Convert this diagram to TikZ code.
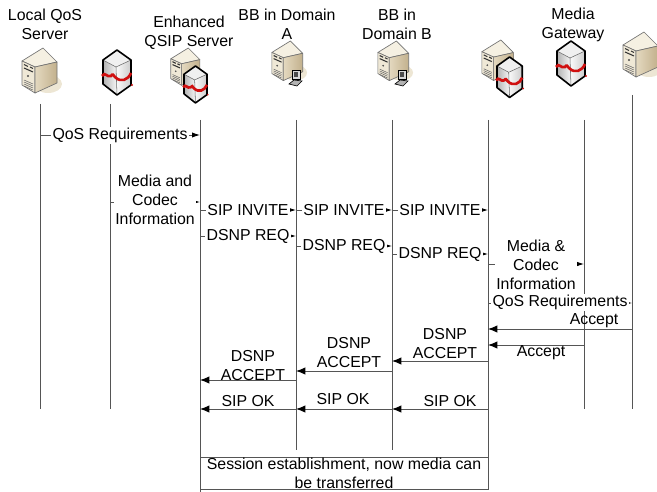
\documentclass[tikz,border=0pt]{standalone}
\usepackage{fontspec}
\setmainfont{Liberation Sans}
\usetikzlibrary{arrows.meta,calc}
\definecolor{lifegray}{HTML}{555555}
\definecolor{beigeA}{HTML}{F5F0E2}
\definecolor{beigeB}{HTML}{EFE8D6}
\definecolor{beigeC}{HTML}{C2B08C}
\definecolor{beigeD}{HTML}{E4D9C0}
\definecolor{shadowc}{HTML}{EDE6D4}
\definecolor{bandred}{HTML}{D01010}
\tikzset{
  x=0.75pt,y=-0.75pt,
  lifeline/.style={draw=lifegray,line width=0.7pt},
  msg/.style={draw=lifegray,line width=0.7pt,-{Latex[black,length=7pt,width=5.5pt]}},
  msgr/.style={draw=lifegray,line width=0.7pt,-{Latex[black,length=6pt,width=4pt]}},
  lbl/.style={font=\fontsize{11.9pt}{14.25pt}\selectfont,align=center,inner sep=1pt,fill=white},
  txt/.style={font=\fontsize{11.9pt}{14.25pt}\selectfont,align=center,inner sep=0pt},
  server/.pic={
    \fill[shadowc] (27,36) ellipse (14 and 9);
    \fill[beigeA,draw=black!55,line width=0.5pt,line join=round] (22,0)--(1,13)--(14,19)--(36,14)--cycle;
    \fill[beigeB,draw=black!55,line width=0.5pt,line join=round] (1,13)--(14,19)--(14,45)--(1,37)--cycle;
    \path[left color=beigeD,right color=beigeC,draw=black!55,line width=0.5pt,line join=round] (14,19)--(36,14)--(36,35)--(14,45)--cycle;
    \draw[black!80,line width=0.8pt] (3,16.5)--(7,18.5) (9,19)--(12,20.5) (3,20)--(12,24);
    \fill[black!70] (7,28) circle (1.1);
    \foreach \k in {33,35,37,39}{\draw[black!60,line width=0.4pt] (3,\k-1)--(12,\k+3);}
  },
  fwall/.pic={
    \path[left color=white!70!black,right color=white!97!black] (0,10)--(13,17)--(14,45)--(0,34)--cycle;
    \path[left color=white!98!black,right color=white!80!black] (13,17)--(28,10)--(28,35)--(14,45)--cycle;
    \fill[white!94!black] (14,0)--(0,10)--(13,17)--(28,10)--cycle;
    \draw[black!60,line width=0.4pt] (0,10)--(13,17)--(28,10) (13,17)--(14,45);
    \draw[black,line width=1.2pt,line join=round] (14,0)--(0,10)--(0,34)--(14,45)--(28,35)--(28,10)--cycle;
    \draw[bandred,line width=2pt] (-1,26) .. controls (2,21) and (4,28) .. (8,26) .. controls (10,23) and (10,25) .. (12,27) .. controls (18,33) and (25,30) .. (28,23);
    \fill[bandred] (29,35) circle (1.1);
  },
  pcicon/.pic={
    \fill[white!85!black,draw=black,line width=0.5pt] (3,0)--(11,0)--(11,9)--(3,9)--cycle;
    \fill[black!70] (5,2)--(9,2)--(9,7)--(5,7)--cycle;
    \fill[white!70!black,draw=black,line width=0.5pt] (0,14)--(5,10)--(13,11)--(8,16)--cycle;
  }
}
\begin{document}
\begin{tikzpicture}
\useasboundingbox (0,0) rectangle (657,492);
% lifeline end points
\foreach \n/\x/\t/\b in {a/40/104/409,b/110/104/409,c/200/120/492,d/296/120/450,e/392/120/450,f/488/120/490,g/584/120/409,h/632/95/409}{
  \coordinate (\n t) at (\x,\t);
  \coordinate (\n b) at (\x,\b);
  \draw[lifeline] (\n t) -- (\n b);
}
% icons
\pic at (21,48) {server};
\pic at (103,50) {fwall};
\pic[scale=0.83] at (170,48) {server};
\pic[scale=0.82] at (184,66) {fwall};
\pic[scale=0.88] at (271,41) {server};
\pic at (289,70) {pcicon};
\pic[scale=0.88] at (377,41) {server};
\pic at (395,70) {pcicon};
\pic[scale=0.9] at (481,40) {server};
\pic[scale=0.9] at (497,57) {fwall};
\pic at (557,41) {fwall};
\pic at (622,32) {server};
% titles
\node[txt] (t1) at (45,24.5) {Local QoS\\Server};
\node[txt] (t2) at (189,33) {Enhanced\\QSIP Server};
\node[txt] (t3) at (287,24.5) {BB in Domain\\A};
\node[txt] (t4) at (397,24.5) {BB in\\Domain B};
\node[txt] (t5) at (573,24.5) {Media\\Gateway};
% messages
\newcommand{\msgline}[8]{%
  \coordinate (#1s) at (#2,#4);\coordinate (#1e) at (#3,#4);
  \draw[#5] (#1s) -- node[lbl,pos=#6,yshift=#7] {#8} (#1e);}
\msgline{m1}{40}{200}{135}{msgr}{0.5}{-0.5pt}{QoS Requirements}
\msgline{m2}{110}{200}{202}{msgr}{0.5}{1.8pt}{Media and\\Codec\\Information}
\msgline{m3}{200}{296}{210}{msgr}{0.5}{0pt}{SIP INVITE}
\msgline{m4}{296}{392}{210}{msgr}{0.5}{0pt}{SIP INVITE}
\msgline{m5}{392}{488}{210}{msgr}{0.5}{0pt}{SIP INVITE}
\msgline{m6}{200}{296}{236}{msgr}{0.5}{-0.5pt}{DSNP REQ}
\msgline{m7}{296}{392}{246}{msgr}{0.5}{-0.5pt}{DSNP REQ}
\msgline{m8}{392}{488}{254}{msgr}{0.5}{-0.5pt}{DSNP REQ}
\msgline{m9}{488}{584}{264}{msgr}{0.5}{-0.7pt}{Media \&\\Codec\\Information}
\msgline{m10}{488}{632}{303}{msgr}{0.5}{0.3pt}{QoS Requirements}
% return messages
\newcommand{\retline}[6]{%
  \coordinate (#1s) at (#2,#4);\coordinate (#1e) at (#3,#4);
  \draw[msg] (#1s) -- (#1e);
  \node[txt] (#1l) at #5 {#6};}
\retline{r1}{632}{488}{329}{(594,321)}{Accept}
\retline{r2}{584}{488}{345}{(541,353)}{Accept}
\retline{r3}{488}{392}{361}{(445,344)}{DSNP\\ACCEPT}
\retline{r4}{392}{296}{371}{(349,353)}{DSNP\\ACCEPT}
\retline{r5}{296}{200}{380}{(253,366)}{DSNP\\ACCEPT}
\retline{r6}{488}{392}{409}{(450,401)}{SIP OK}
\retline{r7}{392}{296}{409}{(343,399)}{SIP OK}
\retline{r8}{296}{200}{409}{(248,401)}{SIP OK}
% session box
\node[txt,draw=lifegray,line width=0.7pt,minimum width=216pt,minimum height=24pt] (box) at (344,473) {Session establishment, now media can\\be transferred};
\end{tikzpicture}
\end{document}
